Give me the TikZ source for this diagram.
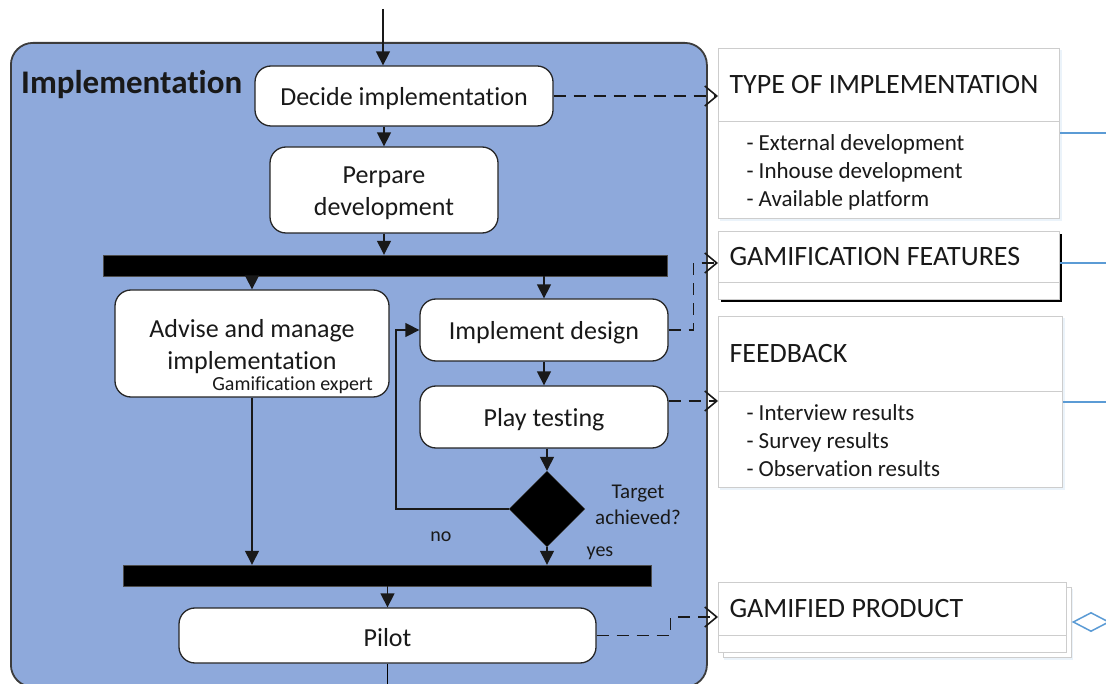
\documentclass[tikz,border=0pt]{standalone}
\usepackage{fontspec}
\setmainfont{Carlito}[Ligatures=NoCommon]
\usetikzlibrary{shapes.geometric,arrows.meta,calc}
\definecolor{lane}{RGB}{142,169,219}
\definecolor{lanedraw}{RGB}{60,60,60}
\definecolor{linkblue}{RGB}{91,155,213}
\definecolor{boxline}{RGB}{205,205,205}
\definecolor{txt}{RGB}{25,25,25}
\newcommand{\hdrtext}[2]{\makebox[#1][l]{#2}}
\newcommand{\bdytext}[2]{\makebox[#1][l]{\begin{tabular}{@{}l@{}}\rule{0pt}{25.6pt}#2\end{tabular}}}
\tikzset{
  act/.style={draw=black!85, fill=white, rounded corners=16pt, line width=1.3pt,
    inner sep=0pt},
  acttext/.style={align=center, inner sep=0pt, text=txt, yshift=-3pt,
    font=\fontsize{26}{32}\selectfont},
  bar/.style={fill=black, draw=black!70, inner sep=0pt},
  flow/.style={line width=1.4pt, draw=black!90, -{Triangle[length=14pt,width=14pt]}},
  dep/.style={line width=1.6pt, draw=black!90, dash pattern=on 12pt off 8pt,
    -{Straight Barb[length=12pt,width=20pt,line width=1.6pt]}},
  hdr/.style={draw=boxline, fill=white, line width=1pt, anchor=north west,
    inner xsep=11pt, inner ysep=0pt, text=txt,
    font=\fontsize{28}{32}\selectfont},
  bdy/.style={draw=boxline, fill=white, line width=1pt, anchor=north west,
    inner xsep=28pt, inner ysep=0pt, text=txt,
    font=\fontsize{23}{28}\selectfont},
  lbl/.style={inner sep=0pt, text=txt, align=center},
  blueln/.style={draw=linkblue, line width=1.2pt},
  softshadow/.style={fill=linkblue!12, draw=none}
}
\begin{document}
\begin{tikzpicture}[x=1pt,y=-1pt]
\useasboundingbox (0,0) rectangle (1106,684);
\fill[white] (0,0) rectangle (1106,684);

% swimlane
\node[draw=lanedraw, fill=lane, line width=1.8pt, rounded corners=22pt,
  minimum width=696pt, minimum height=644pt, anchor=north west, inner sep=0pt] (lane) at (10,42) {};
\node[lbl, anchor=west, font=\fontsize{33}{38}\selectfont\bfseries] (title) at (21,85) {Implementation};

% activities
\node[act, minimum width=298pt, minimum height=60pt,
  label={[acttext]center:Decide implementation}] (dec) at (404,96) {};
\node[act, minimum width=228pt, minimum height=86pt,
  label={[acttext]center:Perpare\\development}] (pp) at (384,190) {};
\node[bar, minimum width=564pt, minimum height=21pt] (bar1) at (385,265.5) {};
\node[act, minimum width=274pt, minimum height=107pt,
  label={[acttext]center:Advise and manage\\implementation}] (adv) at (252,343.5) {};
\node[lbl, anchor=east, font=\fontsize{20}{22}\selectfont] (gexp) at (373,385) {Gamification expert};
\node[act, minimum width=248pt, minimum height=62pt,
  label={[acttext]center:Implement design}] (id) at (544,330) {};
\node[act, minimum width=248pt, minimum height=62pt,
  label={[acttext]center:Play testing}] (pt) at (544,417) {};
\node[diamond, fill=black, draw=black!70, inner sep=0pt, minimum width=76pt, minimum height=76pt] (dia) at (547,509) {};
\node[lbl, font=\fontsize{21}{26}\selectfont] (tgt) at (638,505) {Target\\achieved?};
\node[lbl, font=\fontsize{20}{24}\selectfont] (no) at (441,537) {no};
\node[lbl, font=\fontsize{20}{24}\selectfont] (yes) at (600,553) {yes};
\node[bar, minimum width=528pt, minimum height=21pt] (bar2) at (387,575.5) {};
\node[act, minimum width=417pt, minimum height=55pt,
  label={[acttext, yshift=1pt]center:Pilot}] (pl) at (387.5,635.5) {};

\coordinate (start) at (383,9);
\coordinate (end) at (387.5,686);

% control flow
\draw[flow] (start) -- (start |- dec.north);
\draw[flow] (dec.south -| pp.north) -- (pp.north);
\draw[flow] (pp.south) -- (pp.south |- bar1.north);
\draw[flow] (bar1.south -| adv.north) -- (adv.north);
\draw[flow] (bar1.south -| id.north) -- (id.north);
\draw[flow] (id.south) -- (pt.north);
\draw[flow] (pt.south -| dia.north) -- (dia.north);
\draw[flow] (dia.west) -- ++(-113,0) |- (id.west);
\draw[flow] (dia.south) -- (dia.south |- bar2.north);
\draw[flow] (adv.south) -- (adv.south |- bar2.north);
\draw[flow] (bar2.south -| pl.north) -- (pl.north);
\draw[line width=1.4pt] (pl.south) -- (end);

% right-hand boxes
% type of implementation
\fill[softshadow] (720,50) rectangle (1062,221);
\node[hdr, minimum height=73pt] (toih) at (718,48) {\hdrtext{319pt}{TYPE OF IMPLEMENTATION}};
\node[bdy, minimum height=97pt] (toib) at (718,121) {\bdytext{285pt}{- External development\\- Inhouse development\\- Available platform}};

% gamification features
\fill[black] (721,234) rectangle (1062,302);
\node[hdr, minimum height=51pt] (gfh) at (718,231) {\hdrtext{319pt}{GAMIFICATION FEATURES}};
\node[bdy, minimum height=17pt] (gfb) at (718,282) {\makebox[285pt]{}};

% feedback
\fill[softshadow] (720,318) rectangle (1065,490);
\node[hdr, minimum height=75pt] (fbh) at (718,316) {\hdrtext{322pt}{FEEDBACK}};
\node[bdy, minimum height=96pt] (fbb) at (718,391) {\bdytext{288pt}{- Interview results\\- Survey results\\- Observation results}};

% gamified product (stacked)
\fill[softshadow] (724,589) rectangle (1073,660);
\draw[draw=boxline, fill=white, line width=1pt] (723,587) rectangle (1071,657);
\node[hdr, minimum height=53pt] (gph) at (718,582) {\hdrtext{326pt}{GAMIFIED PRODUCT}};
\node[bdy, minimum height=17pt] (gpb) at (718,635) {\makebox[292pt]{}};

% dependencies
\draw[dep] (dec.east) -- (dec.east -| toih.west);
\draw[dep] (id.east) -- ++(25,0) |- ([yshift=-6pt]gfh.west);
\draw[dep] ([yshift=16pt]pt.east) -- ([yshift=16pt]pt.east -| fbb.west);
\draw[dep] (pl.east) -- ++(74,0) |- ([yshift=-8pt]gph.west);

% blue links leaving the picture
\draw[blueln] ([yshift=-12pt]toib.north east) -- ++(50,0);
\draw[blueln] ([yshift=-6pt]gfh.east) -- ++(50,0);
\draw[blueln] ([yshift=-11pt]fbb.north east) -- ++(50,0);
\node[diamond, draw=linkblue, line width=1.5pt, fill=white, inner sep=0pt,
  minimum width=36pt, minimum height=19pt] (agg) at (1091,622) {};
\end{tikzpicture}
\end{document}
